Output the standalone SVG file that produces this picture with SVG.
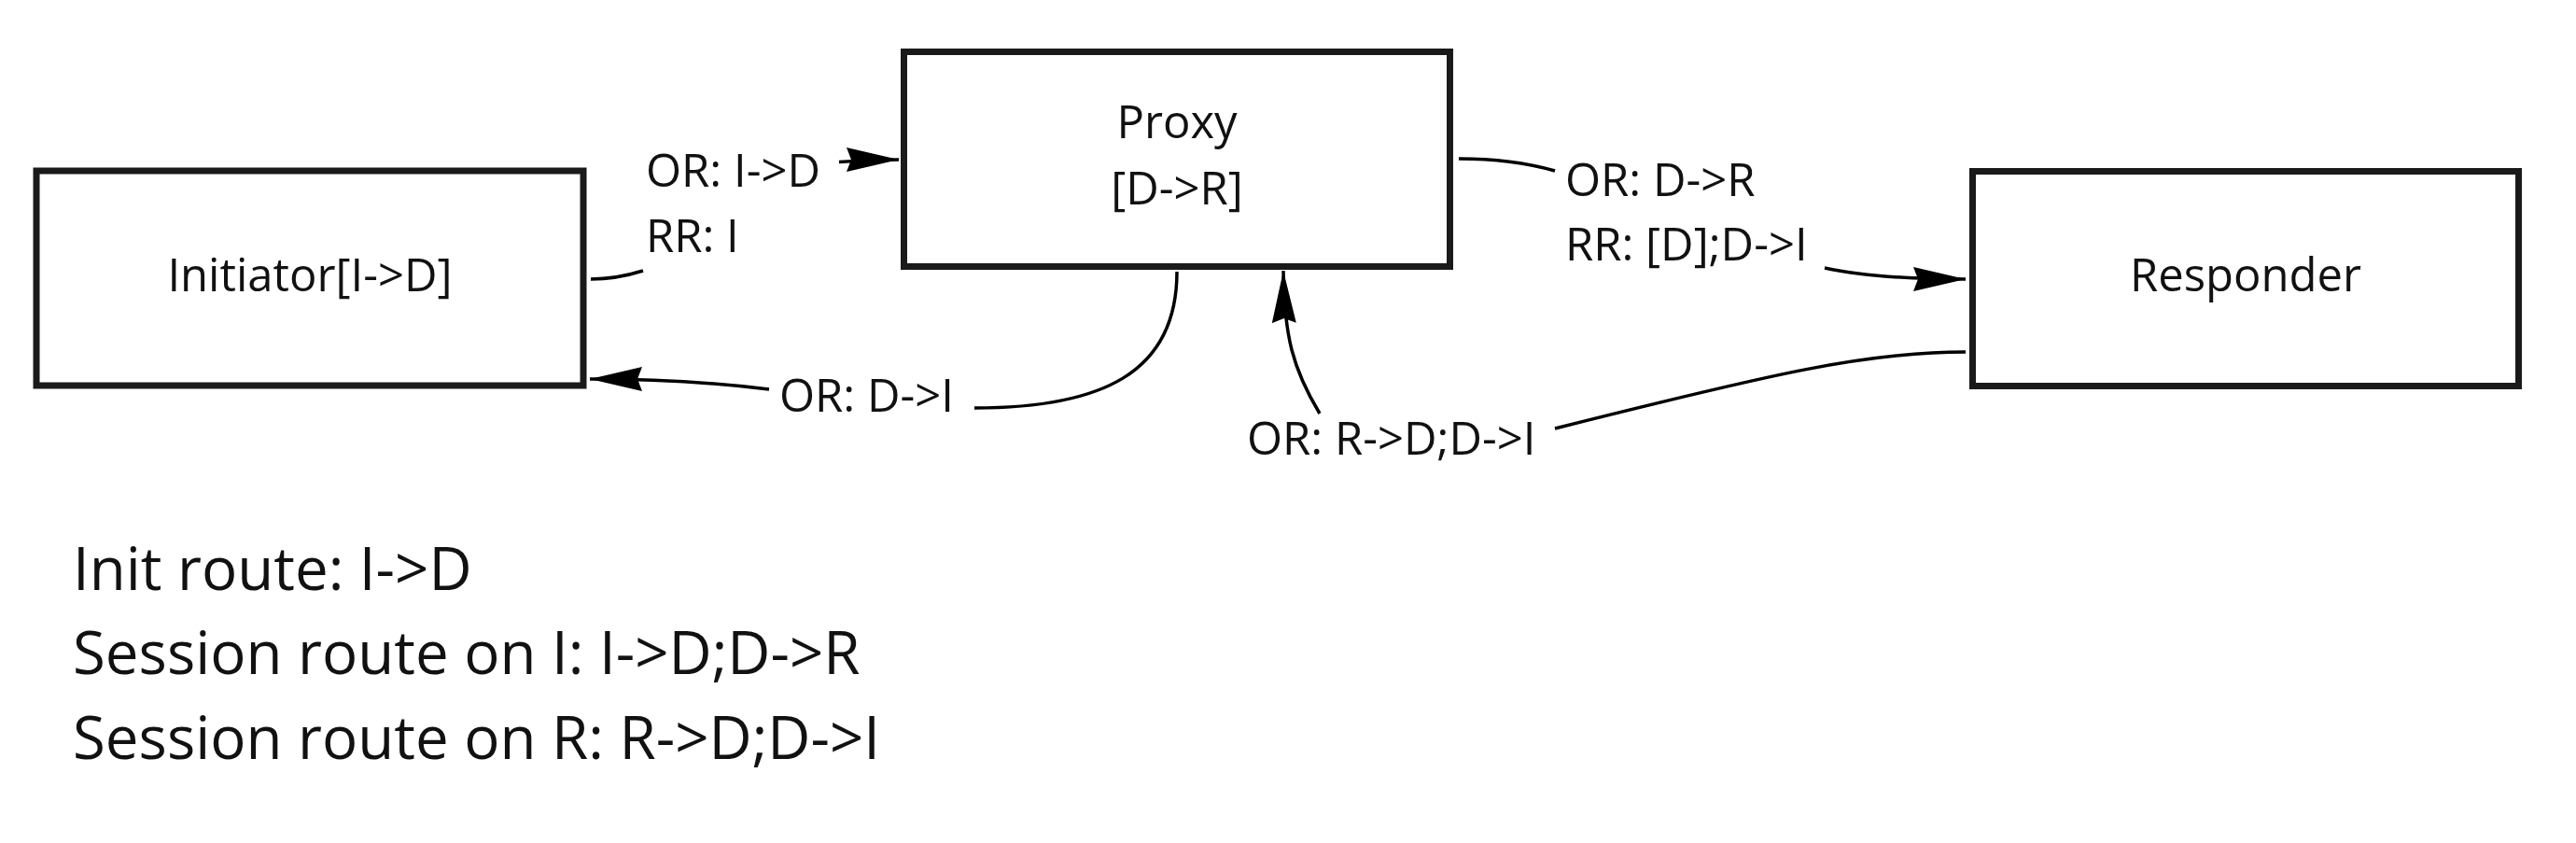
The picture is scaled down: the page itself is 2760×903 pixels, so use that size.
<svg xmlns="http://www.w3.org/2000/svg" width="2760" height="903" viewBox="0 0 2760 903">
<style>
.box{fill:#fff;stroke:#1a1a1a;stroke-width:7}
.t{font-family:"Open Sans","Noto Sans",sans-serif;font-size:49px;fill:#111}
.tc{text-anchor:middle}
.big{font-size:63.6px}
.e{fill:none;stroke:#000;stroke-width:3.5}
.arr{marker-end:url(#ah)}
</style>
<defs>
<marker id="ah" markerUnits="userSpaceOnUse" viewBox="0 0 56 28" refX="56" refY="14" markerWidth="56" markerHeight="28" orient="auto">
<path d="M0,1 L56,14 L0,27 L5,14 Z" fill="#000"/>
</marker>
</defs>
<rect width="2760" height="903" fill="#fff"/>
<g id="connectors">
<path class="e arr" d="M633,299 Q660,299 689,290 M899,173.5 Q930,171 963,171"/>
<path class="e arr" d="M1261,291 C1261,400 1180,437 1044,437 M824,417 C760,409 690,406 632,406"/>
<path class="e arr" d="M1563,170 Q1620,170 1666,183 M1955,287 Q2010,299 2106,299"/>
<path class="e arr" d="M2106,377 C2000,377 1900,400 1666,459 M1414,443 C1385,395 1376,360 1375,290"/>
</g>
<g id="labels">
<text class="t" x="692" y="200">OR: I-&gt;D</text>
<text class="t" x="692" y="270">RR: I</text>
<text class="t" x="1677" y="210">OR: D-&gt;R</text>
<text class="t" x="1677" y="279">RR: [D];D-&gt;I</text>
<text class="t" x="835" y="441">OR: D-&gt;I</text>
<text class="t" x="1336" y="487">OR: R-&gt;D;D-&gt;I</text>
</g>
<g id="initiator">
<rect class="box" x="39" y="183" width="586" height="230"/>
<text class="t tc" x="332" y="312">Initiator[I-&gt;D]</text>
</g>
<g id="proxy">
<rect class="box" x="968.5" y="55.5" width="585" height="230"/>
<text class="t tc" x="1261" y="148">Proxy</text>
<text class="t tc" x="1261" y="219">[D-&gt;R]</text>
</g>
<g id="responder">
<rect class="box" x="2113.5" y="183.5" width="585" height="230"/>
<text class="t tc" x="2406" y="312">Responder</text>
</g>
<g id="notes">
<text class="t big" x="78" y="632">Init route: I-&gt;D</text>
<text class="t big" x="78" y="722">Session route on I: I-&gt;D;D-&gt;R</text>
<text class="t big" x="78" y="813">Session route on R: R-&gt;D;D-&gt;I</text>
</g>
</svg>
